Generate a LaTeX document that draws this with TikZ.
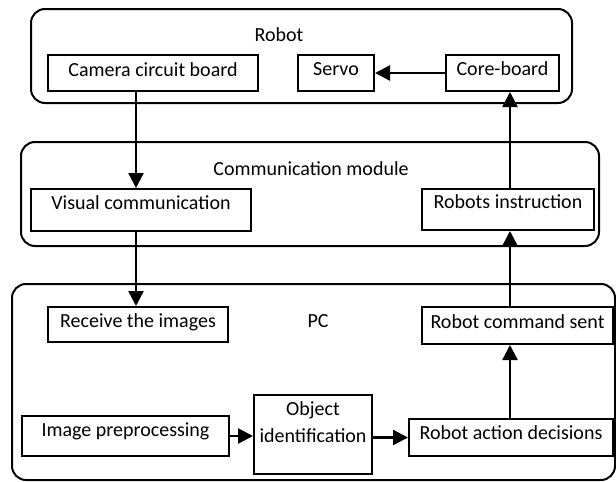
\documentclass[tikz,border=0pt]{standalone}
\usepackage{fontspec}
\setmainfont{Carlito}
\usetikzlibrary{arrows.meta}

\begin{document}
\begin{tikzpicture}[
    x=0.5pt, y=-0.5pt,
    group/.style={rectangle,rounded corners=7pt,draw,line width=1pt,inner sep=0pt},
    block/.style={rectangle,draw,line width=1pt,inner sep=0pt,align=center,
      text height=7pt,text depth=4pt,font=\fontsize{10}{13.5}\selectfont},
    title/.style={inner sep=0pt,font=\fontsize{10}{12}\selectfont},
    arr/.style={-{Triangle[length=7.5pt,width=7.5pt]},line width=1.2pt}
  ]
    \useasboundingbox (0,0) rectangle (616,482);
    % Groups
    \node[group,minimum width=270.5pt,minimum height=47pt] (robot) at (301.5,56) {};
    \node[group,minimum width=289pt,minimum height=52pt] (comm) at (310,194) {};
    \node[group,minimum width=301.5pt,minimum height=98pt] (pc) at (313.5,382) {};
    \node[title] (robotlbl) at (279,35) {Robot};
    \node[title] (commlbl) at (311,169) {Communication module};
    \node[title] (pclbl) at (318,321) {PC};
    % Robot
    \node[block,minimum width=105pt,minimum height=18pt] (cam) at (153,73) {Camera circuit board};
    \node[block,minimum width=38pt,minimum height=18pt,text depth=5pt] (servo) at (336,73) {Servo};
    \node[block,minimum width=56.5pt,minimum height=18pt,text depth=5pt] (core) at (502.5,73) {Core-board};
    % Communication module
    \node[block,minimum width=110pt,minimum height=21pt,text depth=8pt] (vis) at (141,210) {Visual communication};
    \node[block,minimum width=86pt,minimum height=20.5pt,text depth=8pt] (inst) at (508,209.5) {Robots instruction};
    % PC
    \node[block,minimum width=90pt,minimum height=17.5pt] (recv) at (138,324.5) {Receive the images};
    \node[block,minimum width=95.5pt,minimum height=18.5pt] (cmd) at (517.5,325.5) {Robot command sent};
    \node[block,minimum width=103.5pt,minimum height=20pt,text depth=7pt] (prep) at (125.5,436) {Image preprocessing};
    \node[block,minimum width=59pt,minimum height=39.5pt,text height=20.5pt,text depth=13pt] (obj) at (313,434.5) {Object\\identification};
    \node[block,minimum width=102pt,minimum height=18.5pt,text depth=5.5pt] (act) at (511,437.5) {Robot action decisions};
    % Arrows
    \coordinate (lx) at (136,0);
    \coordinate (rx) at (510,0);
    \foreach \a/\b in {cam/vis, vis/recv}
      \draw[arr] (\a.south -| lx) -- (\b.north -| lx);
    \foreach \a/\b in {act/cmd, cmd/inst, inst/core}
      \draw[arr] (\a.north -| rx) -- (\b.south -| rx);
    \draw[arr] (core.west) -- (servo.east);
    \draw[arr] (prep.east) -- (obj.west |- prep.east);
    \draw[arr] (act.west -| obj.east) -- (act.west);
  \end{tikzpicture}
\end{document}
